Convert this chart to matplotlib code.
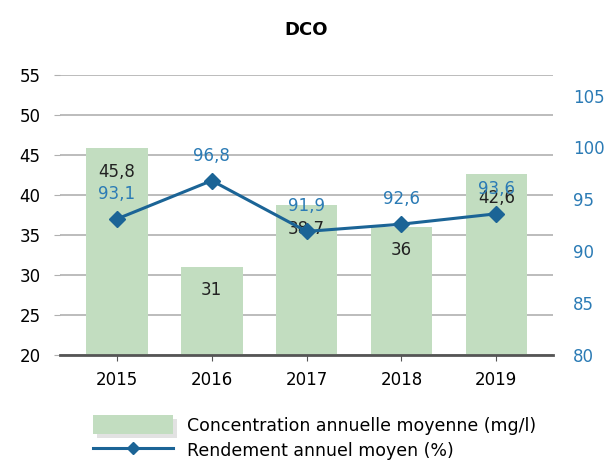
import numpy as np
import matplotlib.pyplot as plt
from matplotlib.patches import Patch
from matplotlib.lines import Line2D
import matplotlib.patheffects as pe

years = ["2015", "2016", "2017", "2018", "2019"]
concentration = [45.8, 31, 38.7, 36, 42.6]
rendement = [93.1, 96.8, 91.9, 92.6, 93.6]

bar_color = "#c2ddc0"
line_color = "#1b6496"
label_blue = "#2b7bb5"
grid_color = "#b0b0b0"


def fr(v):
    return f"{v:g}".replace(".", ",")


def main():
    fig = plt.figure(figsize=(6.12, 4.62), dpi=100)
    ax = fig.add_axes([0.098, 0.232, 0.806, 0.606])
    x = np.arange(len(years))

    ax.bar(x, concentration, width=0.65, color=bar_color, zorder=2)
    ax.set_ylim(20, 55)
    ax.set_xlim(-0.6, 4.6)
    ax.set_yticks(range(20, 60, 5))
    ax.yaxis.grid(True, color=grid_color, linewidth=1.2, zorder=0)
    ax.set_axisbelow(True)
    for s in ["top", "right", "left"]:
        ax.spines[s].set_visible(False)
    ax.spines["bottom"].set_color("#555555")
    ax.spines["bottom"].set_linewidth(2)
    ax.set_xticks(x)
    ax.set_xticklabels(years)
    ax.tick_params(axis="x", length=4, color="#555555", labelsize=12, pad=8)
    ax.tick_params(axis="y", length=4, color=grid_color, labelsize=12, pad=10)

    # valeurs des barres (concentration)
    for xi, v in zip(x, concentration):
        ax.annotate(fr(v), (xi, v), xytext=(0, -17), textcoords="offset points",
                    ha="center", va="center", fontsize=12, color="#222222", zorder=3)

    # rendement sur l'axe de droite
    ax2 = ax.twinx()
    ax2.plot(x, rendement, color=line_color, linewidth=2.2, marker="D",
             markersize=8, zorder=4)
    ax2.set_ylim(80, 107)
    ax2.set_yticks(range(80, 110, 5))
    for s in ["top", "right", "left", "bottom"]:
        ax2.spines[s].set_visible(False)
    ax2.tick_params(axis="y", length=0, labelsize=12, labelcolor=label_blue, pad=14)
    for xi, v in zip(x, rendement):
        ax2.annotate(fr(v), (xi, v), xytext=(0, 18), textcoords="offset points",
                     ha="center", va="center", fontsize=12, color=label_blue, zorder=5)

    fig.text(0.5, 0.935, "DCO", ha="center", va="center", fontsize=13, fontweight="bold")

    shadow = [pe.SimplePatchShadow(offset=(3, -3), shadow_rgbFace="#e2e2e2", alpha=1),
              pe.Normal()]
    handles = [
        Patch(facecolor=bar_color, edgecolor="none", path_effects=shadow),
        Line2D([0], [0], color=line_color, linewidth=2.2, marker="D", markersize=6),
    ]
    labels = ["Concentration annuelle moyenne (mg/l)", "Rendement annuel moyen (%)"]
    fig.legend(handles, labels, loc="upper left", bbox_to_anchor=(0.138, 0.12),
               frameon=False, fontsize=12.5, handlelength=4.6, handleheight=1.3,
               labelspacing=0.35, borderpad=0, handletextpad=0.8)

    fig.savefig("out.png", dpi=100)


if __name__ == "__main__":
    main()
